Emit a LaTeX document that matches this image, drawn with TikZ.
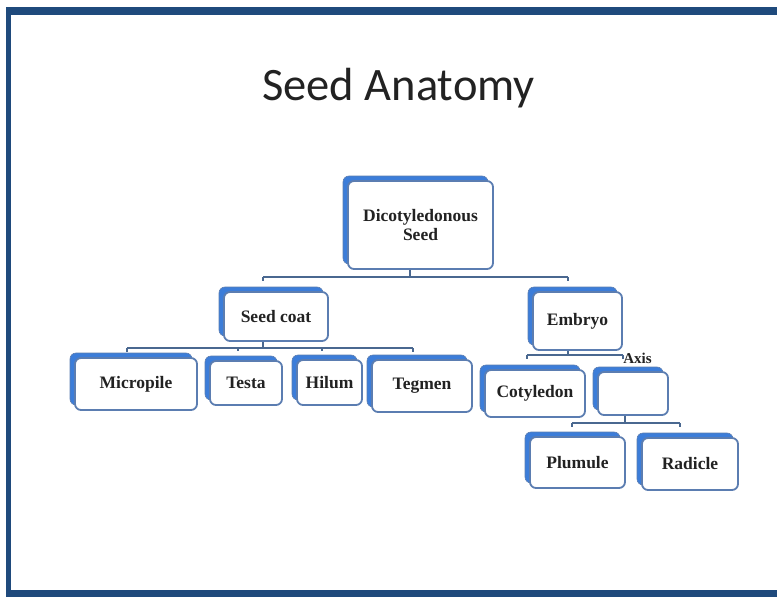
\documentclass[tikz,border=0pt]{standalone}
\usepackage{fontspec}
\setmainfont{Liberation Serif}
\newfontfamily\titlefont{Carlito}
\usetikzlibrary{shadows}
\definecolor{framec}{HTML}{1F4A7C}
\definecolor{sblue}{HTML}{3C7DD9}
\definecolor{bordc}{HTML}{5B7DB1}
\definecolor{connc}{HTML}{4A6890}
\definecolor{txtc}{HTML}{222222}
\tikzset{
  cbox/.style={draw=bordc, line width=1.8pt, fill=white, rounded corners=6pt,
    inner sep=0pt, text=txtc, font=\bfseries\fontsize{17.5}{19}\selectfont, align=center,
    general shadow={shadow xshift=-5pt, shadow yshift=5pt, fill=sblue, draw=bordc, line width=0.6pt}},
  conn/.style={draw=connc, line width=2.4pt},
  tick/.style={draw=connc, line width=2.4pt},
}
\begin{document}
\begin{tikzpicture}[x=1pt,y=-1pt]
\useasboundingbox (0,0) rectangle (777,597);
\fill[white] (0,0) rectangle (777,597);
\fill[framec] (6,7) rectangle (777,597);
\fill[white] (11,15) rectangle (777,590);

\node[text=txtc, font=\titlefont\fontsize{46.5}{50}\selectfont] (title) at (398.5,88) {Seed Anatomy};

% boxes
\node[cbox, minimum width=145pt, minimum height=88pt] (root) at (420.5,225) {Dicotyledonous\\Seed};
\node[cbox, minimum width=104pt, minimum height=49pt] (seedcoat) at (276,316.5) {Seed coat};
\node[cbox, minimum width=89pt, minimum height=58pt] (embryo) at (577.5,321) {Embryo};
\node[cbox, minimum width=122pt, minimum height=52pt] (micropile) at (136,384) {Micropile};
\node[cbox, minimum width=72pt, minimum height=44pt] (testa) at (246,383) {Testa};
\node[cbox, minimum width=65pt, minimum height=45pt] (hilum) at (329.5,382.5) {Hilum};
\node[cbox, minimum width=100pt, minimum height=52pt] (tegmen) at (422,386) {Tegmen};
\node[cbox, minimum width=100pt, minimum height=47pt] (cotyledon) at (535,393.5) {Cotyledon};
\node[cbox, minimum width=70pt, minimum height=43pt] (axis) at (633,393.5) {};
\node[cbox, minimum width=95pt, minimum height=51pt] (plumule) at (577.5,462.5) {Plumule};
\node[cbox, minimum width=96pt, minimum height=52pt] (radicle) at (690,464) {Radicle};
\node[text=txtc, font=\bfseries\fontsize{15}{17}\selectfont, inner sep=0pt] (axislabel) at (637.5,358) {Axis};

% connector bus coordinates
\coordinate (r0) at (410,277);
\coordinate (rl) at (263,277);
\coordinate (rr) at (568,277);
\coordinate (s0) at (263,348);
\coordinate (sl) at (127,348);
\coordinate (sr) at (413,348);
\coordinate (t2) at (238,348);
\coordinate (t3) at (322,348);
\coordinate (e0) at (568,355);
\coordinate (el) at (527,355);
\coordinate (er) at (623,355);
\coordinate (a0) at (625,423);
\coordinate (al) at (572,423);
\coordinate (ar) at (680,423);

% root
\draw[conn] (root.south -| r0) -- (r0);
\draw[conn] (rl) -- (rr);
\draw[tick] (rl) -- ++(0,4);
\draw[tick] (rr) -- ++(0,4);
% seed coat
\draw[conn] (seedcoat.south -| s0) -- (s0);
\draw[conn] (sl) -- (sr);
\draw[tick] (sl) -- ++(0,4);
\draw[tick] (t2) -- ++(0,3);
\draw[tick] (t3) -- ++(0,3);
\draw[tick] (sr) -- ++(0,4);
% embryo
\draw[conn] (embryo.south -| e0) -- (e0);
\draw[conn] (el) -- (er);
\draw[tick] (el) -- ++(0,4);
\draw[tick] (er) -- ++(0,4);
% axis
\draw[conn] (axis.south -| a0) -- (a0);
\draw[conn] (al) -- (ar);
\draw[tick] (al) -- ++(0,4);
\draw[tick] (ar) -- ++(0,4);
\end{tikzpicture}
\end{document}
